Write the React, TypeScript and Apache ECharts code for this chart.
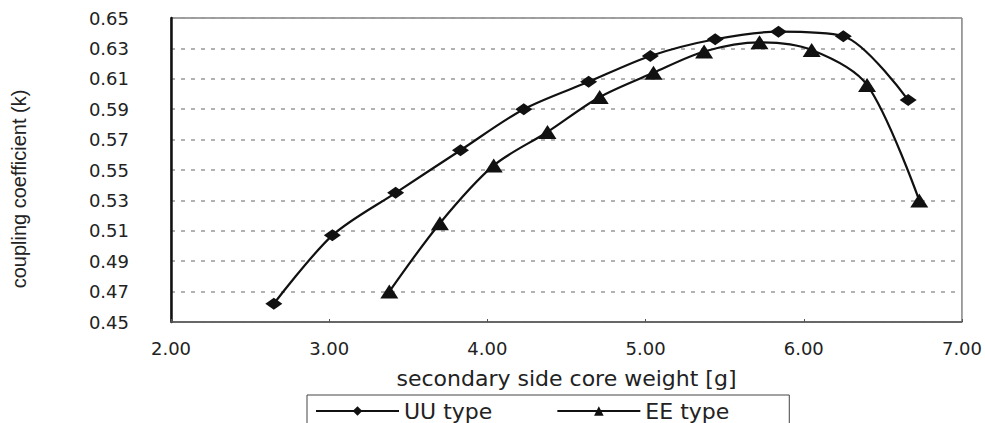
import React, { useEffect, useRef } from "react";
import * as echarts from "echarts";

const uuWeight = [2.65, 3.02, 3.42, 3.83, 4.23, 4.64, 5.03, 5.44, 5.84, 6.25, 6.66];
const uuCoupling = [0.462, 0.507, 0.535, 0.563, 0.59, 0.608, 0.625, 0.636, 0.641, 0.638, 0.596];
const eeWeight = [3.38, 3.7, 4.04, 4.38, 4.71, 5.05, 5.37, 5.72, 6.05, 6.4, 6.73];
const eeCoupling = [0.47, 0.515, 0.553, 0.575, 0.598, 0.614, 0.628, 0.634, 0.629, 0.606, 0.53];
const seriesNames = ["UU type", "EE type"];
const xTitle = "secondary side core weight [g]";
const yTitle = "coupling coefficient (k)";

const zip = (xs: number[], ys: number[]) => xs.map((x, i) => [x, ys[i]]);

export default function App() {
  const ref = useRef<HTMLDivElement>(null);
  useEffect(() => {
    if (!ref.current) return;
    const chart = echarts.init(ref.current, null, { renderer: "svg" });
    const font = "DejaVu Sans";
    chart.setOption({
      animation: false,
      backgroundColor: "#ffffff",
      grid: {
        left: 171,
        right: 23,
        top: 18,
        bottom: 101,
        show: true,
        borderColor: "#444",
        borderWidth: 1,
      },
      legend: {
        data: seriesNames,
        left: 307,
        top: 395,
        orient: "horizontal",
        itemWidth: 83,
        itemHeight: 12,
        itemGap: 64,
        padding: [5, 60, 5, 8],
        borderColor: "#444",
        borderWidth: 1,
        textStyle: { fontFamily: font, fontSize: 22, color: "#222" },
      },
      xAxis: {
        type: "value",
        min: 2,
        max: 7,
        interval: 1,
        name: xTitle,
        nameLocation: "middle",
        nameGap: 45,
        nameTextStyle: { fontFamily: font, fontSize: 22, color: "#222" },
        axisLine: { show: true, lineStyle: { color: "#555", width: 1.5 } },
        axisTick: { show: true, inside: true, length: 3, lineStyle: { color: "#555" } },
        axisLabel: {
          fontFamily: font,
          fontSize: 18,
          color: "#222",
          margin: 17,
          formatter: (v: number) => v.toFixed(2),
        },
        splitLine: { show: false },
      },
      yAxis: {
        type: "value",
        min: 0.45,
        max: 0.65,
        interval: 0.02,
        name: yTitle,
        nameLocation: "middle",
        nameGap: 142,
        nameTextStyle: {
          fontFamily: "Liberation Sans",
          fontSize: 20,
          color: "#222",
          padding: [0, 38, 0, 0],
        },
        axisLine: { show: true, lineStyle: { color: "#111", width: 2.5 } },
        axisTick: { show: false },
        axisLabel: {
          fontFamily: font,
          fontSize: 18,
          color: "#222",
          margin: 42,
          formatter: (v: number) => v.toFixed(2),
        },
        splitLine: { show: true, lineStyle: { color: "#999", width: 1.5, type: [4, 6] } },
      },
      series: [
        {
          name: seriesNames[0],
          type: "line",
          data: zip(uuWeight, uuCoupling),
          smooth: 0.3,
          symbol: "diamond",
          symbolSize: [17, 12],
          lineStyle: { color: "#111", width: 2.2 },
          itemStyle: { color: "#111" },
        },
        {
          name: seriesNames[1],
          type: "line",
          data: zip(eeWeight, eeCoupling),
          smooth: 0.3,
          symbol: "triangle",
          symbolSize: [18, 14],
          lineStyle: { color: "#111", width: 2.2 },
          itemStyle: { color: "#111" },
        },
      ],
    });
    return () => chart.dispose();
  }, []);
  return (
    <div
      ref={ref}
      style={{ position: "fixed", left: 0, top: 0, width: 985, height: 423, background: "#fff" }}
    />
  );
}
